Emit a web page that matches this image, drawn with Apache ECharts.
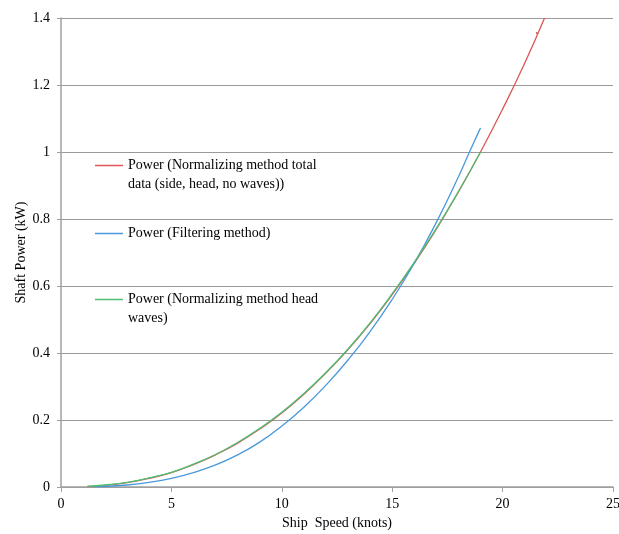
<!DOCTYPE html>
<html>
<head>
    <meta charset="utf-8">
    <script src="https://cdn.jsdelivr.net/npm/echarts@6/dist/echarts.min.js"></script>
</head>
<style type="text/css">
    html, body { margin: 0; padding: 0; background: #fff; }
</style>
<body>
<div style="width: 619px;height: 534px;" id="chart"></div>
<script>

// speed (knots) / shaft power (kW)
let speedTotal = [1.2, 2, 3, 4, 5, 6, 7, 8, 9, 10, 11, 12, 13, 14, 15, 16, 17, 18, 19, 20, 21, 21.9];
let powerTotal = [0.0015, 0.005, 0.013, 0.026, 0.043, 0.067, 0.096, 0.131, 0.173, 0.221, 0.277, 0.340, 0.410, 0.488, 0.574, 0.668, 0.770, 0.881, 1.0, 1.128, 1.265, 1.40];

let speedFilter = [1.5, 2, 3, 4, 5, 6, 7, 8, 9, 10, 11, 12, 13, 14, 15, 16, 17, 18, 18.5, 19];
let powerFilter = [0.001, 0.002, 0.006, 0.014, 0.026, 0.043, 0.066, 0.096, 0.134, 0.182, 0.238, 0.304, 0.379, 0.464, 0.560, 0.668, 0.790, 0.926, 1.0, 1.072];

let speedHead = [1.2, 2, 3, 4, 5, 6, 7, 8, 9, 10, 11, 12, 13, 14, 15, 16, 17, 18, 19];
let powerHead = [0.002, 0.006, 0.014, 0.027, 0.044, 0.068, 0.097, 0.133, 0.175, 0.223, 0.279, 0.342, 0.412, 0.490, 0.577, 0.671, 0.772, 0.882, 1.0];

// lone point near the top of the red curve
let strayPoint = [[21.55, 1.355]];

let names = [
    'Power (Normalizing method total\ndata (side, head, no waves))',
    'Power (Filtering method)',
    'Power (Normalizing method head\nwaves)'
];

let zip = (xs, ys) => xs.map((x, i) => [x, ys[i]]);

let font = 'Liberation Serif, Times New Roman, serif';

let chart = echarts.init(document.getElementById('chart'));

let legendBase = {
    orient: 'vertical',
    left: 95,
    padding: 0,
    icon: 'rect',
    itemWidth: 28,
    itemHeight: 1.5,
    itemGap: 0,
    selectedMode: false,
    textStyle: {fontFamily: font, fontSize: 14, color: '#000', lineHeight: 19}
};

// blank first line keeps the marker level with the first text line
let firstLineUp = name => '\n' + name;

let option = {
    animation: false,
    grid: {left: 61, right: 6, top: 18, bottom: 47, outerBoundsMode: 'none'},
    legend: [
        Object.assign({}, legendBase, {data: [names[0]], top: 137, formatter: firstLineUp}),
        Object.assign({}, legendBase, {data: [names[1]], top: 224}),
        Object.assign({}, legendBase, {data: [names[2]], top: 271, formatter: firstLineUp})
    ],
    xAxis: {
        type: 'value',
        min: 0,
        max: 25,
        interval: 5,
        name: 'Ship  Speed (knots)',
        nameLocation: 'middle',
        nameGap: 29,
        nameMoveOverlap: false,
        nameTextStyle: {fontFamily: font, fontSize: 14, color: '#000'},
        axisLine: {lineStyle: {color: '#a0a0a0', width: 1.5}},
        axisTick: {show: true, length: 5, lineStyle: {color: '#a0a0a0'}},
        axisLabel: {fontFamily: font, fontSize: 14, color: '#000', margin: 10},
        splitLine: {show: false}
    },
    yAxis: {
        type: 'value',
        min: 0,
        max: 1.4,
        interval: 0.2,
        name: 'Shaft Power (kW)',
        nameLocation: 'middle',
        nameGap: 33,
        nameMoveOverlap: false,
        nameTextStyle: {fontFamily: font, fontSize: 14, color: '#000'},
        axisLine: {show: true, lineStyle: {color: '#a0a0a0', width: 1.5}},
        axisTick: {show: true, length: 4, lineStyle: {color: '#a0a0a0'}},
        axisLabel: {fontFamily: font, fontSize: 14, color: '#000', margin: 11},
        splitLine: {lineStyle: {color: '#9a9a9a', width: 1}}
    },
    series: [
        {
            name: names[0],
            type: 'line',
            data: zip(speedTotal, powerTotal),
            smooth: true,
            showSymbol: false,
            color: '#dd5555',
            lineStyle: {width: 1.3}
        },
        {
            name: names[1],
            type: 'line',
            data: zip(speedFilter, powerFilter),
            smooth: true,
            showSymbol: false,
            color: '#4a98dc',
            lineStyle: {width: 1.3}
        },
        {
            name: names[2],
            type: 'line',
            data: zip(speedHead, powerHead),
            smooth: true,
            showSymbol: false,
            color: '#4cbf72',
            lineStyle: {width: 1.3}
        },
        {
            type: 'scatter',
            data: strayPoint,
            symbolSize: 2,
            itemStyle: {color: '#a04040'}
        }
    ]
};

chart.setOption(option);

</script>
</body>
</html>
